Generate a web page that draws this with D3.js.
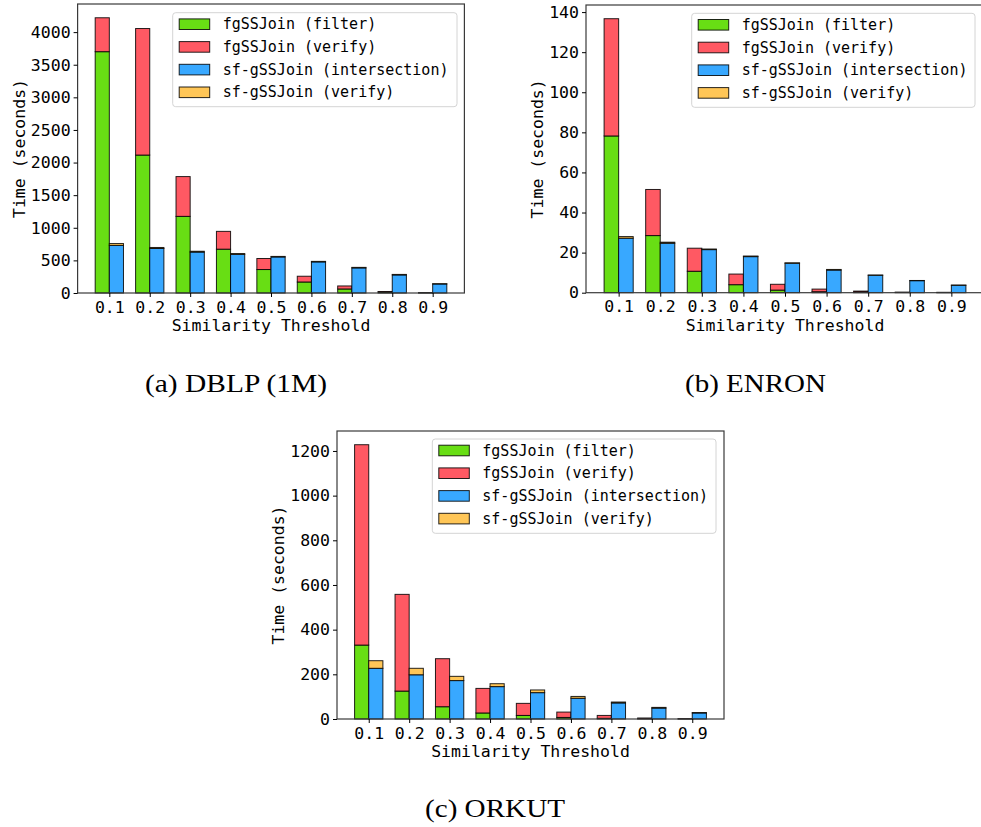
<!DOCTYPE html>
<html>
<head>
<meta charset="utf-8">
<script src="https://cdn.jsdelivr.net/npm/d3@7"></script>
<style>
  html, body { margin: 0; padding: 0; background: #fff; }
  svg { display: block; }
</style>
</head>
<body>
<svg id="fig" width="981" height="827"></svg>
<script>
// Similarity thresholds (x categories)
const thresholds = ["0.1", "0.2", "0.3", "0.4", "0.5", "0.6", "0.7", "0.8", "0.9"];

// Series names and colours
const seriesNames = ["fgSSJoin (filter)", "fgSSJoin (verify)", "sf-gSSJoin (intersection)", "sf-gSSJoin (verify)"];
const seriesColors = ["#68de14", "#ff5963", "#38a8ff", "#ffc657"];

// DBLP (1M) — seconds
const dblpFilter    = [3700, 2115, 1175, 672, 360, 169, 62, 15, 3];
const dblpVerify    = [520, 1940, 610, 273, 169, 88, 46, 8, 2];
const dblpIntersect = [730, 683, 628, 593, 553, 477, 385, 277, 138];
const dblpSfVerify  = [28, 15, 12, 12, 8, 8, 8, 8, 5];

// ENRON — seconds
const enronFilter    = [78.2, 28.5, 10.7, 4.0, 1.3, 0.5, 0.3, 0.1, 0.05];
const enronVerify    = [58.5, 23.0, 11.5, 5.3, 2.9, 1.3, 0.5, 0.2, 0.15];
const enronIntersect = [27.2, 24.7, 21.5, 18.0, 14.7, 11.3, 8.7, 6.0, 3.7];
const enronSfVerify  = [0.8, 0.5, 0.3, 0.3, 0.2, 0.3, 0.1, 0.1, 0.1];

// ORKUT — seconds
const orkutFilter    = [331, 125, 55, 27, 16, 7, 3, 1.5, 0.5];
const orkutVerify    = [897, 433, 215, 110, 54, 24, 13, 3, 1];
const orkutIntersect = [227, 198, 172, 145, 118, 93, 72, 49, 27];
const orkutSfVerify  = [34, 29, 19, 13, 12, 8, 4, 3, 2];

// Y tick values per panel
const dblpTicks  = d3.range(0, 4001, 500);
const enronTicks = d3.range(0, 141, 20);
const orkutTicks = d3.range(0, 1201, 200);

const svg = d3.select("#fig");
const MONO = "'DejaVu Sans Mono', monospace";

function drawPanel(cfg) {
  const { left, right, top, bottom, filter, verify, inter, sfv, ticks, legend, yLabelX, caption } = cfg;
  const g = svg.append("g");
  const n = thresholds.length;
  const w = 0.35;

  // index-based linear x scale with the 5% data margin
  const lo = -w, hi = (n - 1) + w, pad = (hi - lo) * 0.05;
  const x = d3.scaleLinear().domain([lo - pad, hi + pad]).range([left, right]);

  const totals = thresholds.map((_, i) => Math.max(filter[i] + verify[i], inter[i] + sfv[i]));
  const ymax = d3.max(totals) * 1.05;
  const y = d3.scaleLinear().domain([0, ymax]).range([bottom, top]);

  // stacked bars
  const stacks = [
    { off: -w, parts: [[filter, 0], [verify, 1]] },
    { off: 0,  parts: [[inter, 2], [sfv, 3]] }
  ];
  stacks.forEach(st => {
    thresholds.forEach((_, i) => {
      let base = 0;
      st.parts.forEach(([arr, ci]) => {
        const v = arr[i];
        g.append("rect")
          .attr("x", x(i + st.off))
          .attr("width", x(i + st.off + w) - x(i + st.off))
          .attr("y", y(base + v))
          .attr("height", y(base) - y(base + v))
          .attr("fill", seriesColors[ci])
          .attr("stroke", "#000")
          .attr("stroke-opacity", 0.85)
          .attr("stroke-width", 1);
        base += v;
      });
    });
  });

  // frame
  g.append("rect")
    .attr("x", left).attr("y", top)
    .attr("width", right - left).attr("height", bottom - top)
    .attr("fill", "none").attr("stroke", "#3a3a3a").attr("stroke-width", 1.2);

  // x axis
  const xAxis = d3.axisBottom(x)
    .tickValues(d3.range(n))
    .tickFormat(i => thresholds[i])
    .tickSize(4).tickPadding(4);
  const xa = g.append("g").attr("transform", `translate(0,${bottom})`).call(xAxis);
  xa.select(".domain").remove();
  xa.selectAll("text").attr("font-family", MONO).attr("font-size", 16.5).attr("fill", "#000");
  xa.selectAll("line").attr("stroke", "#000");

  // y axis
  const yAxis = d3.axisLeft(y).tickValues(ticks).tickFormat(d3.format("d")).tickSize(4).tickPadding(3);
  const ya = g.append("g").attr("transform", `translate(${left},0)`).call(yAxis);
  ya.select(".domain").remove();
  ya.selectAll("text").attr("font-family", MONO).attr("font-size", 16.5).attr("fill", "#000");
  ya.selectAll("line").attr("stroke", "#000");

  // axis titles
  g.append("text")
    .attr("x", (left + right) / 2).attr("y", bottom + 38)
    .attr("text-anchor", "middle")
    .attr("font-family", MONO).attr("font-size", 16.5)
    .text("Similarity Threshold");
  g.append("text")
    .attr("transform", `translate(${yLabelX},${(top + bottom) / 2}) rotate(-90)`)
    .attr("text-anchor", "middle").attr("dominant-baseline", "central")
    .attr("font-family", MONO).attr("font-size", 16.5)
    .text("Time (seconds)");

  // legend
  const lg = g.append("g");
  lg.append("rect")
    .attr("x", legend.x).attr("y", legend.y)
    .attr("width", legend.w).attr("height", legend.h)
    .attr("rx", 3).attr("fill", "#fff").attr("fill-opacity", 0.85)
    .attr("stroke", "#d4d4d4").attr("stroke-width", 1);
  seriesNames.forEach((name, k) => {
    const cy = legend.y + 11.5 + k * 22.7;
    lg.append("rect")
      .attr("x", legend.x + 6.5).attr("y", cy - 5.3)
      .attr("width", 30.5).attr("height", 10.6)
      .attr("fill", seriesColors[k]).attr("stroke", "#000")
      .attr("stroke-opacity", 0.85).attr("stroke-width", 1);
    lg.append("text")
      .attr("x", legend.x + 50).attr("y", cy)
      .attr("dominant-baseline", "central")
      .attr("font-family", MONO).attr("font-size", 15)
      .text(name);
  });

  // sub-caption
  svg.append("text")
    .attr("x", caption.x).attr("y", caption.y)
    .attr("text-anchor", "middle")
    .attr("font-family", "'Liberation Serif', serif").attr("font-size", 26)
    .attr("textLength", caption.len).attr("lengthAdjust", "spacingAndGlyphs")
    .text(caption.text);
}

drawPanel({
  left: 77.6, right: 464.4, top: 4, bottom: 293,
  filter: dblpFilter, verify: dblpVerify, inter: dblpIntersect, sfv: dblpSfVerify,
  ticks: dblpTicks, yLabelX: 19,
  legend: { x: 172.7, y: 12.7, w: 284.3, h: 94 },
  caption: { x: 236, y: 392, len: 182, text: "(a) DBLP (1M)" }
});

drawPanel({
  left: 586, right: 984, top: 5, bottom: 292.7,
  filter: enronFilter, verify: enronVerify, inter: enronIntersect, sfv: enronSfVerify,
  ticks: enronTicks, yLabelX: 537,
  legend: { x: 691.7, y: 13.3, w: 283.3, h: 94 },
  caption: { x: 755.5, y: 392, len: 141, text: "(b) ENRON" }
});

drawPanel({
  left: 337, right: 724, top: 431, bottom: 719,
  filter: orkutFilter, verify: orkutVerify, inter: orkutIntersect, sfv: orkutSfVerify,
  ticks: orkutTicks, yLabelX: 278,
  legend: { x: 432.3, y: 439, w: 283.7, h: 94.3 },
  caption: { x: 495, y: 817, len: 140, text: "(c) ORKUT" }
});
</script>
</body>
</html>
